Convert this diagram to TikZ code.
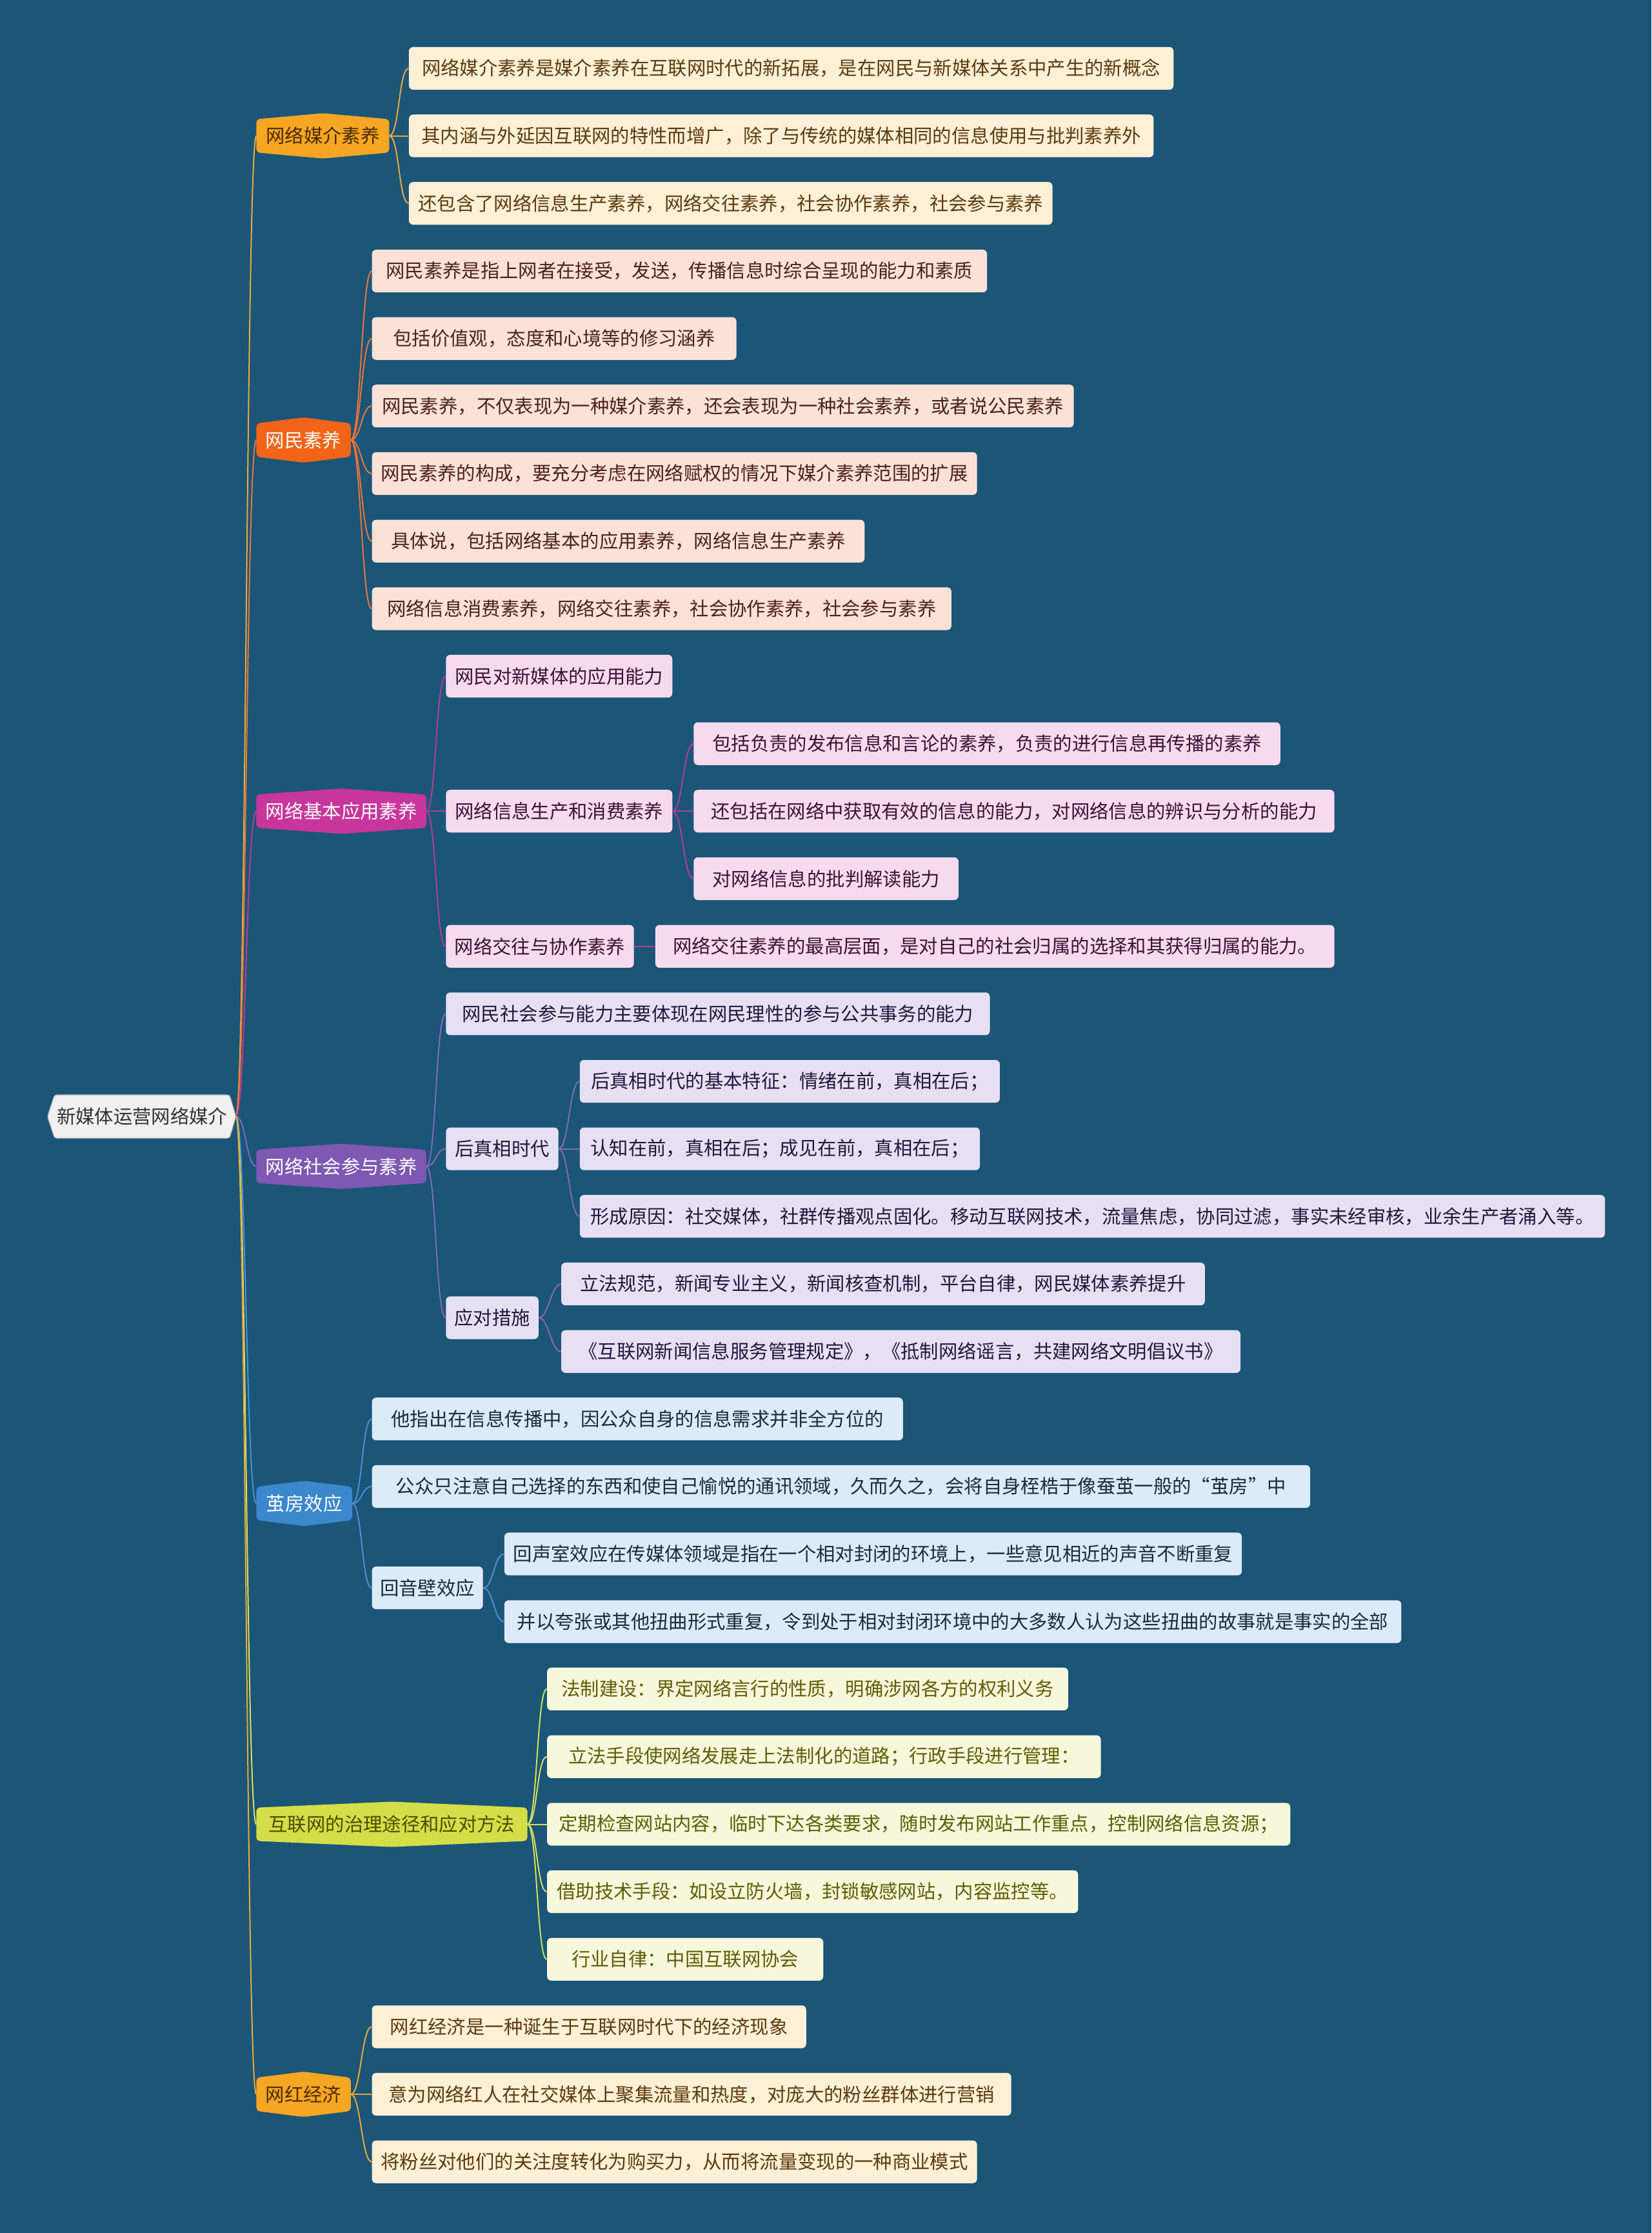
\documentclass[tikz,border=0pt]{standalone}
\usepackage{fontspec}
\setmainfont{Noto Sans CJK SC}
\usetikzlibrary{calc,backgrounds}
\definecolor{bgc}{HTML}{1B5578}
\definecolor{rootf}{HTML}{F0F0F0}
\definecolor{roott}{HTML}{333333}
% branch fills
\definecolor{f1}{HTML}{F5A623}
\definecolor{f2}{HTML}{F26418}
\definecolor{f3}{HTML}{C8359C}
\definecolor{f4}{HTML}{7E58B2}
\definecolor{f5}{HTML}{3C87CD}
\definecolor{f6}{HTML}{D4DE48}
% link colours
\definecolor{k1}{HTML}{E9A93A}
\definecolor{k2}{HTML}{E8763A}
\definecolor{k3}{HTML}{B83A98}
\definecolor{k4}{HTML}{8468B8}
\definecolor{k5}{HTML}{4A90D0}
\definecolor{k6}{HTML}{D6DE5A}
% leaf fills and texts
\definecolor{l1}{HTML}{FDF0D6}\definecolor{t1}{HTML}{5C3A0E}
\definecolor{l2}{HTML}{FCE2D6}\definecolor{t2}{HTML}{4A2318}
\definecolor{l3}{HTML}{F6DBEE}\definecolor{t3}{HTML}{3C1234}
\definecolor{l4}{HTML}{E6E0F2}\definecolor{t4}{HTML}{21183F}
\definecolor{l5}{HTML}{DDEAF7}\definecolor{t5}{HTML}{1C2B3A}
\definecolor{l6}{HTML}{F6F7DB}\definecolor{t6}{HTML}{5E5E05}
\definecolor{bt1}{HTML}{4A2A00}
\definecolor{bt6}{HTML}{4C4C00}
\tikzset{
  every node/.style={font=\fontsize{13.3}{16}\selectfont},
  leaf/.style={anchor=west, rounded corners=3pt, inner xsep=4pt, inner ysep=0pt, minimum height=30pt},
  lf1/.style={leaf, fill=l1, text=t1},
  lf2/.style={leaf, fill=l2, text=t2},
  lf3/.style={leaf, fill=l3, text=t3},
  lf4/.style={leaf, fill=l4, text=t4},
  lf5/.style={leaf, fill=l5, text=t5},
  lf6/.style={leaf, fill=l6, text=t6},
  brnode/.style={anchor=west, inner xsep=4pt, inner ysep=0pt, minimum height=23pt},
  lk/.style={line width=0.9pt},
  cv/.style={out=0, in=180, distance=7pt},
}
\newcommand{\brshape}[2]{\fill[#2, rounded corners=2.5pt] (#1.north west) -- ($(#1.north)+(0,-4.2)$) -- (#1.north east) -- (#1.south east) -- ($(#1.south)+(0,4.2)$) -- (#1.south west) -- cycle;}
\begin{document}
\begin{tikzpicture}[x=1pt, y=-1pt]
\useasboundingbox (0,0) rectangle (1160,1568);

% root
\node[inner xsep=1pt, inner ysep=0pt, minimum width=122.5pt, minimum height=30pt, text=roott] (root) at (99.75,784) {新媒体运营网络媒介};
\coordinate (rootR) at ($(root.east)+(4.5,0)$);
\coordinate (rootL) at ($(root.west)+(-5,0)$);

% level 1
\node[brnode, minimum width=93pt, text=bt1] (b1) at (180,95.4) {网络媒介素养};
\node[brnode, minimum width=66pt, text=white] (b2) at (180,309) {网民素养};
\node[brnode, minimum width=119pt, text=white] (b3) at (180,569.6) {网络基本应用素养};
\node[brnode, minimum width=119pt, text=white] (b4) at (180,819) {网络社会参与素养};
\node[brnode, minimum width=67pt, text=white] (b5) at (180,1055.7) {茧房效应};
\node[brnode, minimum width=190pt, text=bt6] (b6) at (180,1281) {互联网的治理途径和应对方法};
\node[brnode, minimum width=66pt, text=bt1] (b7) at (180,1470.6) {网红经济};

% branch 1
\node[lf1, minimum width=537pt] (b1c1) at (287,48) {网络媒介素养是媒介素养在互联网时代的新拓展，是在网民与新媒体关系中产生的新概念};
\node[lf1, minimum width=523pt] (b1c2) at (287,95.4) {其内涵与外延因互联网的特性而增广，除了与传统的媒体相同的信息使用与批判素养外};
\node[lf1, minimum width=452pt] (b1c3) at (287,142.8) {还包含了网络信息生产素养，网络交往素养，社会协作素养，社会参与素养};

% branch 2
\node[lf2, minimum width=432pt] (b2c1) at (261,190.3) {网民素养是指上网者在接受，发送，传播信息时综合呈现的能力和素质};
\node[lf2, minimum width=256pt] (b2c2) at (261,237.7) {包括价值观，态度和心境等的修习涵养};
\node[lf2, minimum width=493pt] (b2c3) at (261,285.1) {网民素养，不仅表现为一种媒介素养，还会表现为一种社会素养，或者说公民素养};
\node[lf2, minimum width=425pt] (b2c4) at (261,332.5) {网民素养的构成，要充分考虑在网络赋权的情况下媒介素养范围的扩展};
\node[lf2, minimum width=346pt] (b2c5) at (261,380) {具体说，包括网络基本的应用素养，网络信息生产素养};
\node[lf2, minimum width=407pt] (b2c6) at (261,427.4) {网络信息消费素养，网络交往素养，社会协作素养，社会参与素养};

% branch 3
\node[lf3, minimum width=159pt] (b3c1) at (313,474.8) {网民对新媒体的应用能力};
\node[lf3, minimum width=159pt] (b3c2) at (313,569.6) {网络信息生产和消费素养};
\node[lf3, minimum width=412pt] (b3c2a) at (487,522.2) {包括负责的发布信息和言论的素养，负责的进行信息再传播的素养};
\node[lf3, minimum width=450pt] (b3c2b) at (487,569.6) {还包括在网络中获取有效的信息的能力，对网络信息的辨识与分析的能力};
\node[lf3, minimum width=186pt] (b3c2c) at (487,617) {对网络信息的批判解读能力};
\node[lf3, minimum width=132pt] (b3c3) at (313,664.5) {网络交往与协作素养};
\node[lf3, minimum width=477pt] (b3c3a) at (460,664.5) {网络交往素养的最高层面，是对自己的社会归属的选择和其获得归属的能力。};

% branch 4
\node[lf4, minimum width=382pt] (b4c1) at (313,711.9) {网民社会参与能力主要体现在网民理性的参与公共事务的能力};
\node[lf4, minimum width=79pt] (b4c2) at (313,806.7) {后真相时代};
\node[lf4, minimum width=295pt] (b4c2a) at (407,759.3) {后真相时代的基本特征：情绪在前，真相在后；};
\node[lf4, minimum width=281pt] (b4c2b) at (407,806.7) {认知在前，真相在后；成见在前，真相在后；};
\node[lf4, minimum width=720pt] (b4c2c) at (407,854.1) {形成原因：社交媒体，社群传播观点固化。移动互联网技术，流量焦虑，协同过滤，事实未经审核，业余生产者涌入等。};
\node[lf4, minimum width=65pt] (b4c3) at (313,925.3) {应对措施};
\node[lf4, minimum width=452pt] (b4c3a) at (394,901.6) {立法规范，新闻专业主义，新闻核查机制，平台自律，网民媒体素养提升};
\node[lf4, minimum width=477pt] (b4c3b) at (394,949) {《互联网新闻信息服务管理规定》，《抵制网络谣言，共建网络文明倡议书》};

% branch 5
\node[lf5, minimum width=373pt] (b5c1) at (261,996.4) {他指出在信息传播中，因公众自身的信息需求并非全方位的};
\node[lf5, minimum width=659pt] (b5c2) at (261,1043.8) {公众只注意自己选择的东西和使自己愉悦的通讯领域，久而久之，会将自身桎梏于像蚕茧一般的“茧房”中};
\node[lf5, minimum width=78pt] (b5c3) at (261,1115) {回音壁效应};
\node[lf5, minimum width=518pt] (b5c3a) at (354,1091.2) {回声室效应在传媒体领域是指在一个相对封闭的环境上，一些意见相近的声音不断重复};
\node[lf5, minimum width=630pt] (b5c3b) at (354,1138.7) {并以夸张或其他扭曲形式重复，令到处于相对封闭环境中的大多数人认为这些扭曲的故事就是事实的全部};

% branch 6
\node[lf6, minimum width=366pt] (b6c1) at (384,1186) {法制建设：界定网络言行的性质，明确涉网各方的权利义务};
\node[lf6, minimum width=389pt] (b6c2) at (384,1233.5) {立法手段使网络发展走上法制化的道路；行政手段进行管理：};
\node[lf6, minimum width=522pt] (b6c3) at (384,1281) {定期检查网站内容，临时下达各类要求，随时发布网站工作重点，控制网络信息资源；};
\node[lf6, minimum width=373pt] (b6c4) at (384,1328.3) {借助技术手段：如设立防火墙，封锁敏感网站，内容监控等。};
\node[lf6, minimum width=194pt] (b6c5) at (384,1375.8) {行业自律：中国互联网协会};

% branch 7
\node[lf1, minimum width=305pt] (b7c1) at (261,1423.2) {网红经济是一种诞生于互联网时代下的经济现象};
\node[lf1, minimum width=449pt] (b7c2) at (261,1470.6) {意为网络红人在社交媒体上聚集流量和热度，对庞大的粉丝群体进行营销};
\node[lf1, minimum width=425pt] (b7c3) at (261,1518) {将粉丝对他们的关注度转化为购买力，从而将流量变现的一种商业模式};

% connectors
\draw[lk, k1] (rootR) to[cv] (b1.west);
\draw[lk, k2] (rootR) to[cv] (b2.west);
\draw[lk, k3] (rootR) to[cv] (b3.west);
\draw[lk, k4] (rootR) to[cv] (b4.west);
\draw[lk, k5] (rootR) to[cv] (b5.west);
\draw[lk, k6] (rootR) to[cv] (b6.west);
\draw[lk, k1] (rootR) to[cv] (b7.west);

\foreach \c in {b1c1,b1c2,b1c3} \draw[lk, k1] (b1.east) to[cv] (\c.west);
\foreach \c in {b2c1,b2c2,b2c3,b2c4,b2c5,b2c6} \draw[lk, k2] (b2.east) to[cv] (\c.west);
\foreach \c in {b3c1,b3c2,b3c3} \draw[lk, k3] (b3.east) to[cv] (\c.west);
\foreach \c in {b3c2a,b3c2b,b3c2c} \draw[lk, k3] (b3c2.east) to[cv] (\c.west);
\draw[lk, k3] (b3c3.east) to[cv] (b3c3a.west);
\foreach \c in {b4c1,b4c2,b4c3} \draw[lk, k4] (b4.east) to[cv] (\c.west);
\foreach \c in {b4c2a,b4c2b,b4c2c} \draw[lk, k4] (b4c2.east) to[cv] (\c.west);
\foreach \c in {b4c3a,b4c3b} \draw[lk, k4] (b4c3.east) to[cv] (\c.west);
\foreach \c in {b5c1,b5c2,b5c3} \draw[lk, k5] (b5.east) to[cv] (\c.west);
\foreach \c in {b5c3a,b5c3b} \draw[lk, k5] (b5c3.east) to[cv] (\c.west);
\foreach \c in {b6c1,b6c2,b6c3,b6c4,b6c5} \draw[lk, k6] (b6.east) to[cv] (\c.west);
\foreach \c in {b7c1,b7c2,b7c3} \draw[lk, k1] (b7.east) to[cv] (\c.west);

% background and shapes
\begin{scope}[on background layer]
\fill[bgc] (0,0) rectangle (1160,1568);
\filldraw[fill=rootf, draw=gray!60, line width=0.5pt, rounded corners=1.5pt] (root.north west) -- (root.north east) -- (rootR) -- (root.south east) -- (root.south west) -- (rootL) -- cycle;
\brshape{b1}{f1}
\brshape{b2}{f2}
\brshape{b3}{f3}
\brshape{b4}{f4}
\brshape{b5}{f5}
\brshape{b6}{f6}
\brshape{b7}{f1}
\end{scope}
\end{tikzpicture}
\end{document}
